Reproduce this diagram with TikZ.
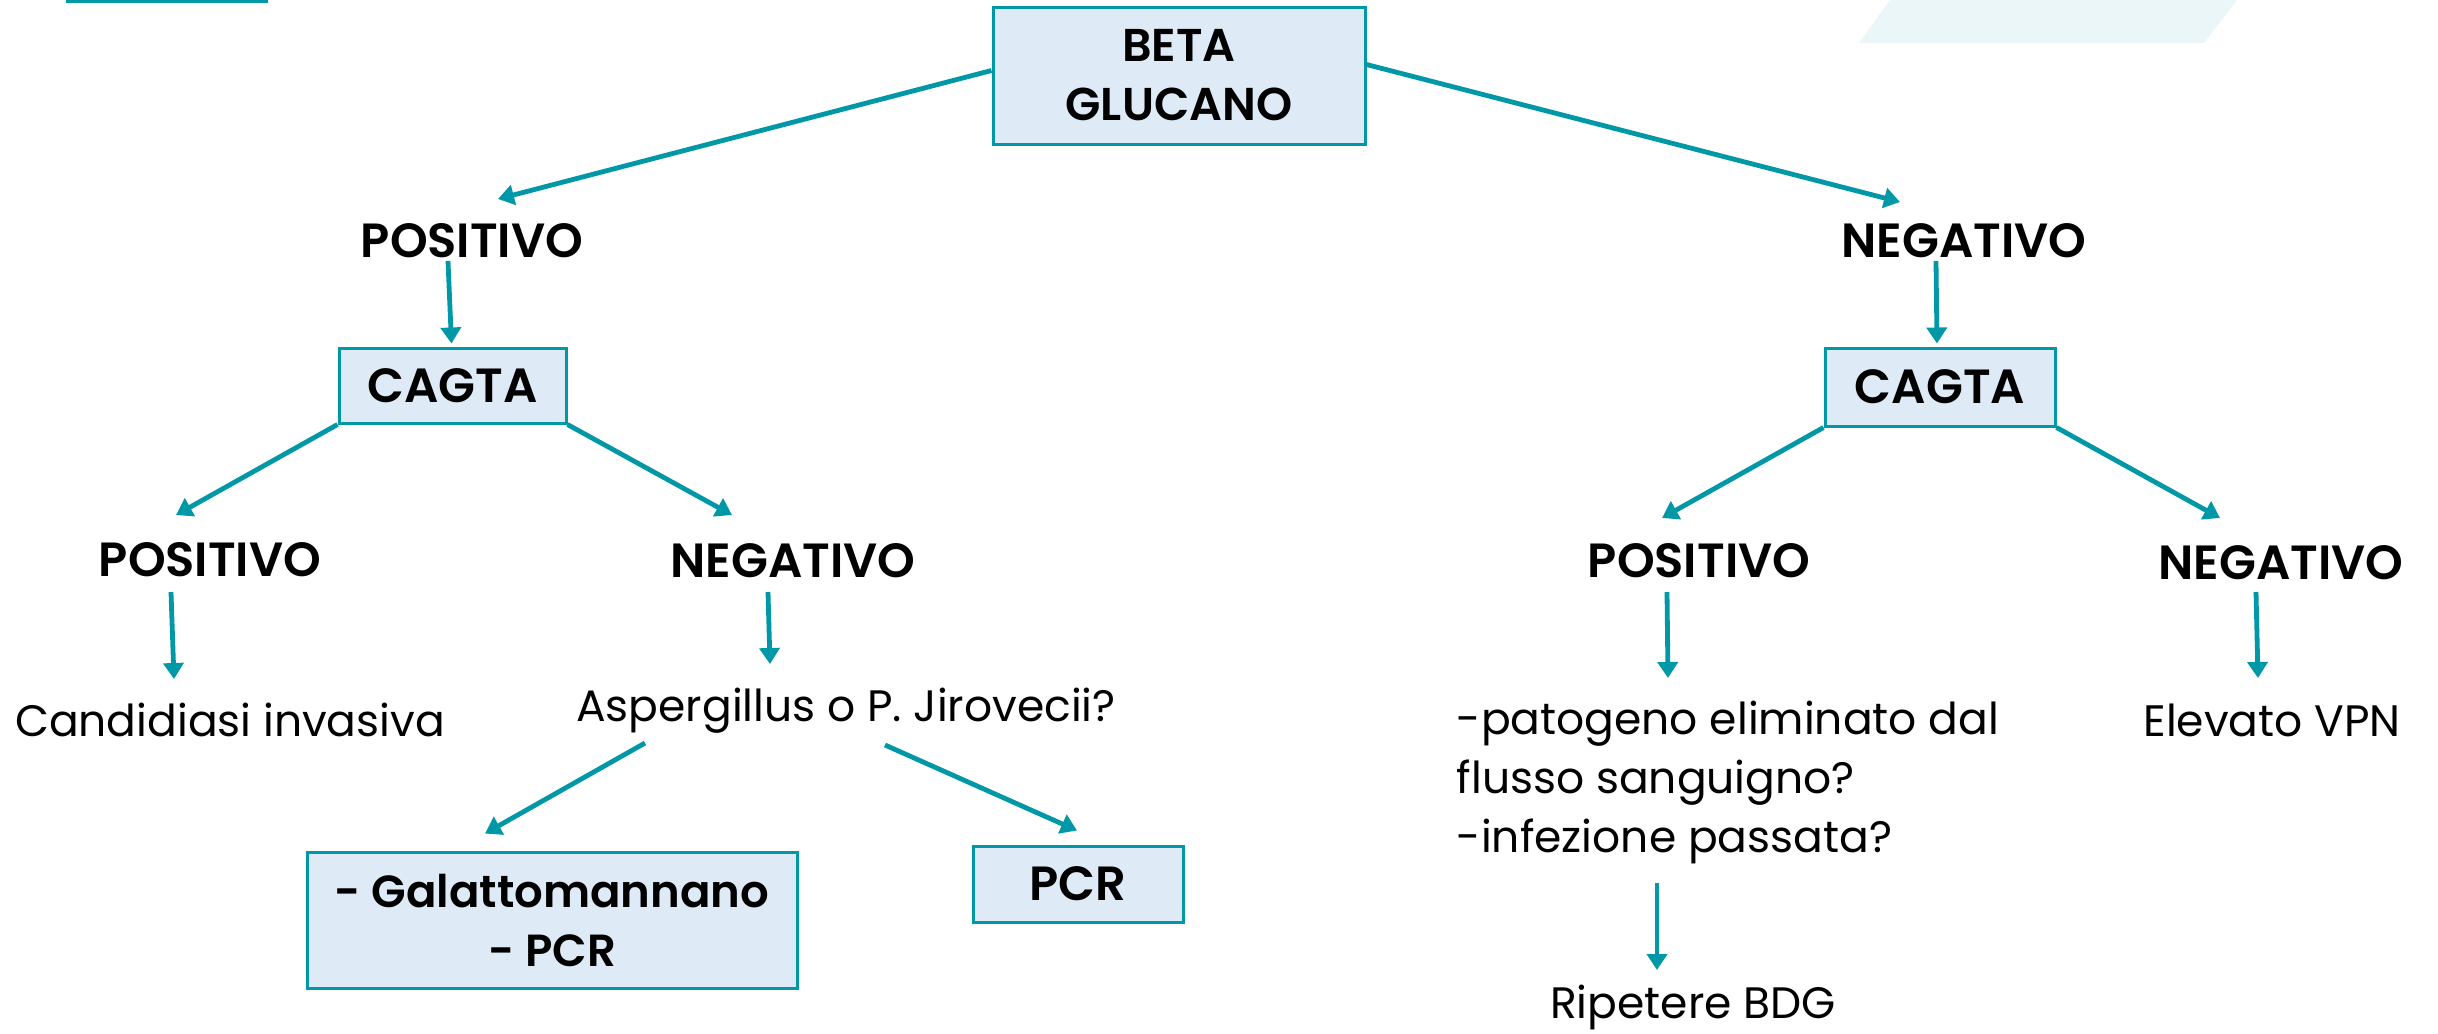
\documentclass[tikz,border=0pt]{standalone}
\usepackage{fontspec}
\setmainfont{Poppins}[BoldFont={Poppins SemiBold}]
\usetikzlibrary{arrows.meta,calc}
\definecolor{teal1}{HTML}{0098A6}
\definecolor{boxfill}{HTML}{DEEAF6}
\definecolor{deco}{HTML}{EAF6F7}
\tikzset{
  arr/.style={draw=teal1,line width=2.4pt,-{Triangle[length=8pt,width=10pt]}},
  bx/.style={draw=teal1,fill=boxfill,line width=1.5pt,inner sep=0pt,font=\fontsize{22.5}{29.5}\selectfont\bfseries,align=center},
  capsbx/.style={bx,font=\fontsize{24}{29.5}\selectfont\bfseries},
  lbl/.style={inner sep=0pt,font=\fontsize{24}{29.5}\selectfont\bfseries},
  txt/.style={inner sep=0pt,font=\fontsize{22}{29.5}\selectfont}
}
\begin{document}
\begin{tikzpicture}[x=0.5pt,y=-0.5pt]
\useasboundingbox (0,0) rectangle (2438,1034);
% decorations
\fill[teal1] (66,0) rectangle (268,3);
\fill[deco] (1890,0) -- (2237,0) -- (2204,43) -- (1859,43) -- cycle;
% nodes
\node[bx,minimum width=186pt,minimum height=68.5pt,font=\fontsize{23}{29.5}\selectfont\bfseries] (beta) at (1179,75.5) {BETA\\GLUCANO};
\node[lbl] (pos1) at (472,241) {POSITIVO};
\node[lbl] (neg1) at (1964,241) {NEGATIVO};
\node[capsbx,minimum width=113.5pt,minimum height=37.5pt] (cagL) at (452.5,385.5) {CAGTA};
\node[capsbx,minimum width=115pt,minimum height=39pt] (cagR) at (1940,387) {CAGTA};
\node[lbl] (pos2) at (210,560) {POSITIVO};
\node[lbl] (neg2) at (793,561) {NEGATIVO};
\node[lbl] (pos3) at (1699,561) {POSITIVO};
\node[lbl] (neg3) at (2281,563) {NEGATIVO};
\node[txt] (cand) at (230,720) {Candidiasi invasiva};
\node[txt] (asp) at (846,711) {Aspergillus o P. Jirovecii?};
\node[txt,align=left] (pat) at (1728,782) {-patogeno eliminato dal\\flusso sanguigno?\\-infezione passata?};
\node[txt] (elev) at (2272,720) {Elevato VPN};
\node[bx,minimum width=245pt,minimum height=68pt] (gal) at (552,920) {- Galattomannano\\- PCR};
\node[capsbx,minimum width=105pt,minimum height=38pt] (pcr) at (1078,884) {PCR};
\node[txt] (rip) at (1693,1007) {Ripetere BDG};
% connectors
\draw[arr] ($(beta.west)+(0,-5)$) -- ($(pos1)+(26,-42)$);
\draw[arr] ($(beta.east)+(0,-11)$) -- ($(neg1)+(-64,-39)$);
\draw[arr] ($(pos1)+(-24,20)$) -- ($(cagL.north)+(-1,-3)$);
\draw[arr] ($(neg1)+(-28,20)$) -- ($(cagR.north)+(-3,-3)$);
\draw[arr] (cagL.south west) -- ($(pos2)+(-34,-45)$);
\draw[arr] (cagL.south east) -- ($(neg2)+(-61,-46)$);
\draw[arr] (cagR.south west) -- ($(pos3)+(-37,-43)$);
\draw[arr] (cagR.south east) -- ($(neg3)+(-61,-45)$);
\draw[arr] ($(pos2)+(-39,32)$) -- ($(cand)+(-56,-41)$);
\draw[arr] ($(neg2)+(-25,31)$) -- ($(asp)+(-76,-47)$);
\draw[arr] ($(pos3)+(-32,31)$) -- ($(pat)+(-60,-104)$);
\draw[arr] ($(neg3)+(-25,29)$) -- ($(elev)+(-14,-42)$);
\draw[arr] ($(asp)+(-201,32)$) -- ($(gal.north)+(-67,-17)$);
\draw[arr] ($(asp)+(39,34)$) -- ($(pcr.north)+(-1,-14)$);
\draw[arr] ($(pat)+(-71,101)$) -- ($(rip)+(-36,-37)$);
\end{tikzpicture}
\end{document}
